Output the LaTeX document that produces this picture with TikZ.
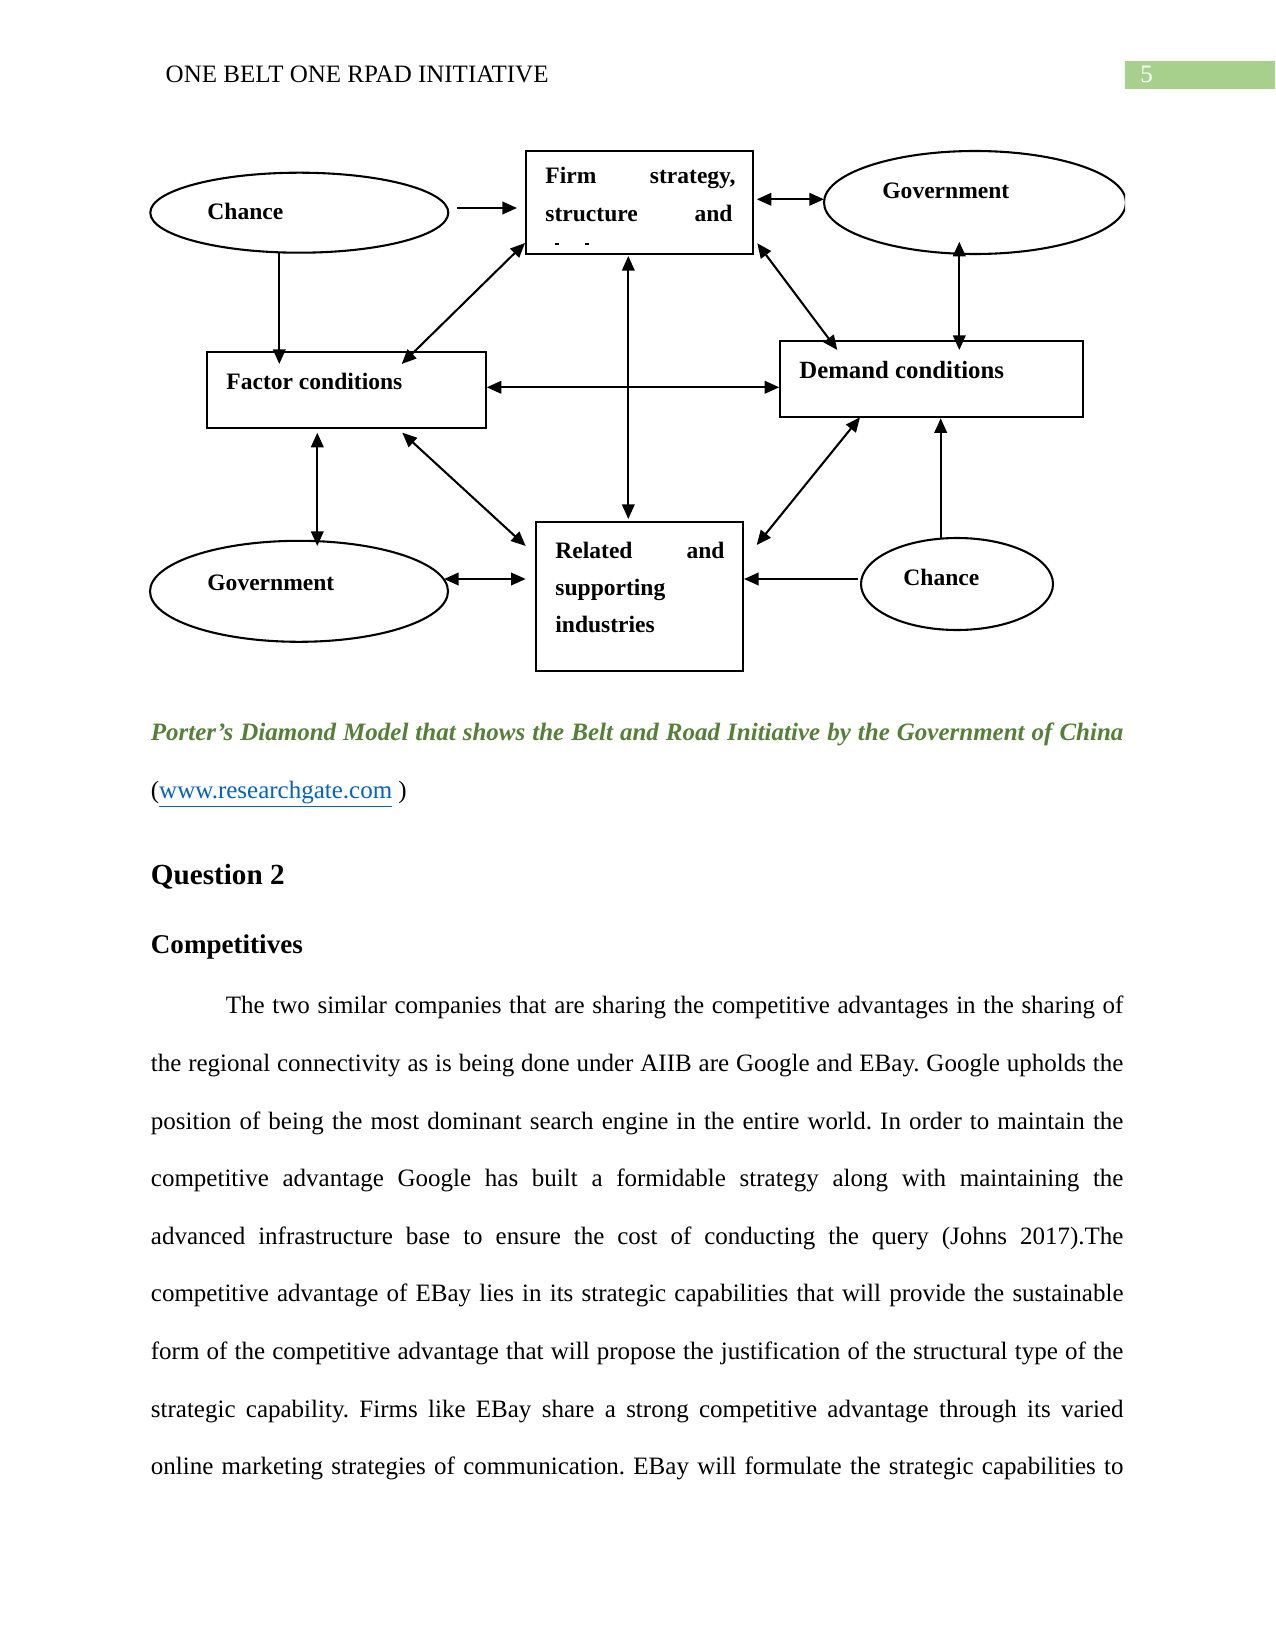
\documentclass[tikz,border=0pt]{standalone}
\usepackage{fontspec}
\setmainfont{Liberation Serif}
\usetikzlibrary{arrows.meta,shapes.geometric}
\definecolor{capgreen}{HTML}{538135}
\definecolor{pagegreen}{HTML}{A8D08D}
\definecolor{linkblue}{HTML}{0563C1}
\frenchspacing
\begin{document}
\frenchspacing
\begin{tikzpicture}[x=0.48pt,y=-0.48pt,
  box/.style={draw, rectangle, line width=1pt, inner sep=0pt},
  oval/.style={draw, ellipse, line width=1pt, inner sep=0pt},
  lbl/.style={font=\fontsize{11.3}{13}\selectfont\bfseries, inner sep=0pt, anchor=base west},
  lble/.style={lbl, anchor=base east},
  con/.style={line width=1pt, -{Triangle[length=7pt,width=6pt]}},
  bicon/.style={line width=1pt, {Triangle[length=7pt,width=6pt]}-{Triangle[length=7pt,width=6pt]}},
  bodyline/.style={font=\fontsize{12}{14}\selectfont, inner sep=0pt, anchor=base west},
  headtext/.style={font=\fontsize{12}{14}\selectfont, inner sep=0pt, anchor=base west}
]
\useasboundingbox (0,0) rectangle (1275,1651);
\fill[white] (0,0) rectangle (1275,1651);

% header
\node[headtext] (head) at (165.3,83) {ONE BELT ONE RPAD INITIATIVE};
\fill[pagegreen] (1125,61) rectangle (1275,89);
\node[headtext, text=white] (pnum) at (1140,83) {5};

% diagram
\begin{scope}
\clip (140,150) rectangle (1125,690);
\node[box, minimum width=108.96pt, minimum height=49.44pt] (firm) at (639.2,202.5) {};
\node[box, minimum width=134.06pt, minimum height=36.62pt] (factor) at (346.3,389.8) {};
\node[box, minimum width=145.3pt, minimum height=36.48pt] (demand) at (931.3,378.7) {};
\node[box, minimum width=99.65pt, minimum height=71.52pt] (related) at (639.5,596.2) {};
\node[oval, minimum width=143.04pt, minimum height=38.4pt] (chanceA) at (299.3,212.7) {};
\node[oval, minimum width=144.96pt, minimum height=49.44pt] (govA) at (975,202.5) {};
\node[oval, minimum width=143.04pt, minimum height=48.48pt] (govB) at (299,591.3) {};
\node[oval, minimum width=92.16pt, minimum height=44.16pt] (chanceB) at (957,584) {};

% labels
\node[lbl] (tChanceA) at (207,220) {Chance};
\node[lbl] (tFirm) at (545,184) {Firm};
\node[lble] (tStrat) at (736,184) {strategy,};
\node[lbl] (tStruct) at (545,222) {structure};
\node[lble] (tAnd1) at (733,222) {and};
\draw[line width=0.8pt] (555,244) -- (558.5,244) (585,244) -- (588.5,244);
\node[lbl] (tGovA) at (882,199) {Government};
\node[lbl] (tFactor) at (226,389) {Factor conditions};
\node[lbl, font=\fontsize{11.9}{13}\selectfont\bfseries] (tDemand) at (799,378) {Demand conditions};
\node[lbl] (tRel) at (555,558) {Related};
\node[lble] (tAnd2) at (725,558) {and};
\node[lbl] (tSupp) at (555,595) {supporting};
\node[lbl] (tInd) at (555,632) {industries};
\node[lbl] (tGovB) at (207,590) {Government};
\node[lbl] (tChanceB) at (903,585) {Chance};

% connector end points
\coordinate (p1a) at (456.7,208);   \coordinate (p1b) at (517,208);
\coordinate (p2a) at (279.3,253);   \coordinate (p2b) at (279.3,364);
\coordinate (p3a) at (525,243);     \coordinate (p3b) at (401.7,364);
\coordinate (p4a) at (628.3,256);   \coordinate (p4b) at (628.3,519);
\coordinate (p5a) at (486.7,387.3); \coordinate (p5b) at (779.3,387.3);
\coordinate (p6a) at (756.7,199.3); \coordinate (p6b) at (824,199.3);
\coordinate (p7a) at (757.3,243.3); \coordinate (p7b) at (837.3,350);
\coordinate (p8a) at (959.3,241.7); \coordinate (p8b) at (959.3,350);
\coordinate (p9a) at (317.3,432.7); \coordinate (p9b) at (317.3,546);
\coordinate (p10a) at (402.3,432.7); \coordinate (p10b) at (525.7,546);
\coordinate (p11a) at (444,579);    \coordinate (p11b) at (525.7,579);
\coordinate (p12a) at (860,417.3);  \coordinate (p12b) at (756.7,545);
\coordinate (p13a) at (940.7,537.7); \coordinate (p13b) at (940.7,418.3);
\coordinate (p14a) at (858,579);    \coordinate (p14b) at (744,579);

\draw[con] (p1a) -- (p1b);
\draw[con] (p2a) -- (p2b);
\draw[bicon] (p3a) -- (p3b);
\draw[bicon] (p4a) -- (p4b);
\draw[bicon] (p5a) -- (p5b);
\draw[bicon] (p6a) -- (p6b);
\draw[bicon] (p7a) -- (p7b);
\draw[bicon] (p8a) -- (p8b);
\draw[bicon] (p9a) -- (p9b);
\draw[bicon] (p10a) -- (p10b);
\draw[bicon] (p11a) -- (p11b);
\draw[bicon] (p12a) -- (p12b);
\draw[con] (p13a) -- (p13b);
\draw[con] (p14a) -- (p14b);
\end{scope}

% caption
\node[bodyline, text=capgreen, font=\fontsize{12}{14}\selectfont\bfseries\itshape] (cap) at (150.5,740)
  {\makebox[466.8pt][s]{Porter’s Diamond Model that shows the Belt and Road Initiative by the Government of China}};
\node[bodyline] (src) at (150.5,798) {(\textcolor{linkblue}{\underline{www.researchgate.com}} )};

% headings
\node[bodyline, font=\fontsize{14}{16}\selectfont\bfseries] (q2) at (150.5,884) {Question 2};
\node[bodyline, font=\fontsize{13}{15}\selectfont\bfseries] (comp) at (150.5,953) {Competitives};

% body text
\node[bodyline] (l1) at (225.5,1013) {\makebox[430.8pt][s]{The two similar companies that are sharing the competitive advantages in the sharing of}};
\node[bodyline] (l2) at (150.5,1071) {\makebox[466.8pt][s]{the regional connectivity as is being done under AIIB are Google and EBay. Google upholds the}};
\node[bodyline] (l3) at (150.5,1129) {\makebox[466.8pt][s]{position of being the most dominant search engine in the entire world. In order to maintain the}};
\node[bodyline] (l4) at (150.5,1186) {\makebox[466.8pt][s]{competitive advantage Google has built a formidable strategy along with maintaining the}};
\node[bodyline] (l5) at (150.5,1244) {\makebox[466.8pt][s]{advanced infrastructure base to ensure the cost of conducting the query (Johns 2017).The}};
\node[bodyline] (l6) at (150.5,1301) {\makebox[466.8pt][s]{competitive advantage of EBay lies in its strategic capabilities that will provide the sustainable}};
\node[bodyline] (l7) at (150.5,1359) {\makebox[466.8pt][s]{form of the competitive advantage that will propose the justification of the structural type of the}};
\node[bodyline] (l8) at (150.5,1417) {\makebox[466.8pt][s]{strategic capability. Firms like EBay share a strong competitive advantage through its varied}};
\node[bodyline] (l9) at (150.5,1474) {\makebox[466.8pt][s]{online marketing strategies of communication. EBay will formulate the strategic capabilities to}};
\end{tikzpicture}
\end{document}
